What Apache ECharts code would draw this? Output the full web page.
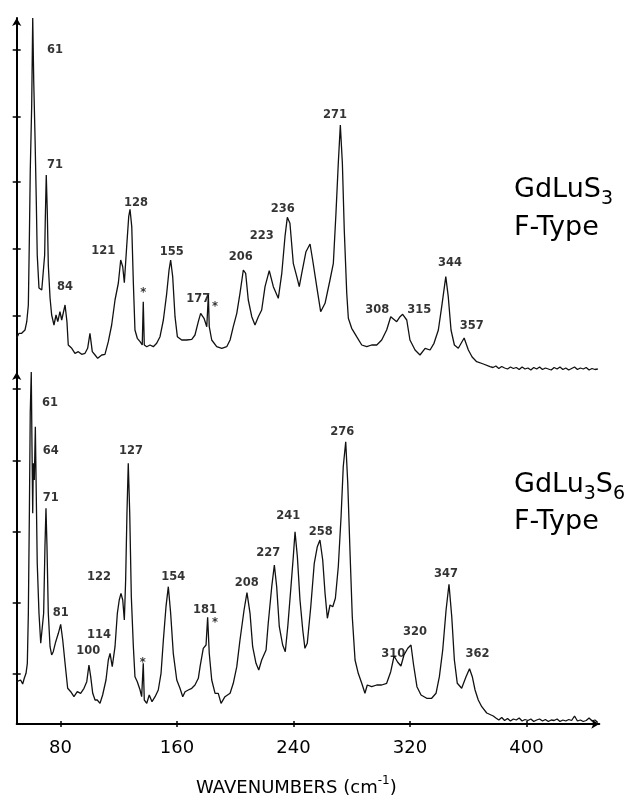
<!DOCTYPE html>
<html>
<head>
<meta charset="utf-8">
<script src="https://cdn.jsdelivr.net/npm/echarts@6/dist/echarts.min.js"></script>
<style>
html,body{margin:0;padding:0;background:#fff;}
#chart{width:629px;height:800px;}
</style>
</head>
<body>
<div id="chart"></div>
<script>
// ---------- DATA ----------
const xMin = 50, xMax = 450;
const xTickValues = [80, 160, 240, 320, 400];
const topYTicks = [56, 123, 190, 255, 322];
const bottomYTicks = [50, 121, 192, 263, 335];

// GdLuS3 F-Type spectrum: [wavenumber, intensity]
const topSpectrum = [
[50.0,34],[51.6,38.7],[53.4,38.7],[55.7,42],[56.9,50.3],[58.0,67],[58.7,134],[59.3,200.3],[60.3,267],[61.0,354],
[61.7,290.3],[62.6,234],[63.5,167],[64.1,117],[65.3,84],[67.2,82],[68.5,80],[69.2,117],[69.6,150.3],[70.3,197],
[71.0,160.3],[71.7,107],[72.9,74],[74.0,57],[75.6,47],[77.0,57],[78.2,50.3],[79.7,60.3],[80.9,52],[83.2,67],
[84.5,50.3],[85.4,27],[87.8,23.7],[90.0,18.7],[92.3,20.3],[94.6,17.7],[96.9,18.7],[98.7,23.7],[100.3,38.7],[101.9,20.3],
[103.8,17],[105.6,13.7],[108.4,17],[110.6,17.7],[112.9,30.3],[115.2,47],[117.5,72],[119.8,89],[121.4,112],[122.8,105.3],
[123.9,89.3],[125.5,125.3],[126.9,155.3],[127.8,162.7],[129.0,145.3],[130.1,88.7],[131.2,42],[132.8,33.7],[134.7,30.3],[136.2,27],
[136.9,70.3],[137.6,27],[139.3,25.3],[141.5,27],[143.8,25.3],[146.1,28.7],[148.4,35.3],[150.7,52],[153.0,78.7],[154.6,102],
[155.7,112],[157.1,95.3],[158.7,55.3],[160.3,35.3],[163.3,32],[166.7,32],[170.2,32.7],[172.4,37],[174.7,50.3],[176.3,58.7],
[178.6,53.7],[180.5,45.3],[181.6,77],[182.2,45.3],[183.9,32],[187.3,25.3],[190.8,23.7],[194.2,25.3],[196.5,32],[198.7,45.3],
[201.1,58.7],[203.3,78.7],[205.6,102],[207.2,98.7],[209.0,72],[211.4,55.3],[213.6,47],[215.9,55.3],[218.2,62],[220.5,85.3],
[223.4,101.3],[226.2,85.3],[229.6,73.7],[232.0,98.7],[234.2,135.3],[235.8,154.7],[237.6,148.7],[239.9,108.7],[242.3,95.3],[244.0,85.3],
[245.7,98.7],[248.6,120.3],[251.4,128],[253.2,112],[256.0,85.3],[258.7,60.3],[261.7,68.7],[265.1,92],[267.4,108.7],[269.2,158.7],
[270.8,208.7],[272.2,247],[273.6,208.7],[274.9,142],[276.6,78.7],[277.7,53.7],[280.0,43.7],[283.4,35.3],[286.9,27],[290.3,25.3],
[293.7,27],[297.2,27],[300.6,32],[304.0,42],[306.8,55.3],[307.9,56],[310.9,50.3],[313.2,55.3],[315.0,57.7],[317.8,52],
[320.0,32],[323.5,22],[326.9,17],[330.4,23.7],[333.8,22],[336.5,28.7],[339.5,42],[341.8,65.3],[344.6,95.3],[346.3,75.3],
[348.2,42],[350.5,27],[353.2,23.7],[357.2,34],[360.1,22],[362.7,15],[365.8,10.3],[370.4,8],[375.0,5.3],[377,4.5],
[379,6],[381,3.5],[383,5.5],[385,4],[387,3],[389,5],[391,3.5],[393,4.5],[395,2.5],[397,5],
[399,3],[401,4],[403,2],[405,4.5],[407,3],[409,5],[411,2.5],[413,4],[415,3],[417,2],
[419,4.5],[421,3],[423,5],[425,2.5],[427,4],[429,2],[431,3.5],[433,5],[435,2.5],[437,4],
[439,3],[441,4.5],[443,2],[445,3.5],[447,2.5],[449,3]
];

// GdLu3S6 F-Type spectrum: [wavenumber, intensity]
const bottomSpectrum = [
[50.0,42.3],[51.1,40.7],[52.7,44],[54.1,40],[55.2,45.7],[56.4,50.7],[57.3,60.7],[58.0,110.7],[58.7,210.7],[59.3,310.7],
[60.0,352],[60.5,277.3],[61.0,210.7],[61.4,260.7],[62.1,244],[62.8,297.3],[63.3,244],[64.1,160.7],[65.3,110.7],[66.5,80.7],
[67.6,79],[68.5,110.7],[69.4,177.3],[70.1,215.7],[70.8,177.3],[71.7,110.7],[72.9,77.3],[74.0,69],[75.1,72.3],[76.8,82.3],
[78.6,90.7],[80.2,99.7],[81.6,84],[83.2,60.7],[85.0,35.7],[87.1,32.3],[89.3,27.3],[91.6,32.3],[93.9,30.7],[96.2,35.7],
[98.1,42.3],[99.6,59],[100.8,47.3],[102.2,30.7],[103.8,24],[105.3,24],[107.2,20.7],[109.0,29],[111.3,44],[112.9,64],
[114.1,70.7],[115.6,57.3],[117.5,77.3],[119.1,110.7],[120.4,124],[121.6,130.7],[122.8,124],[123.9,104],[124.8,144],[125.7,210.7],
[126.6,260.7],[127.6,210.7],[128.7,127.3],[130.1,77.3],[131.2,47.3],[132.8,42.3],[134.7,34],[135.8,27.3],[136.9,60.7],[137.6,24],
[139.3,20.7],[141.0,29],[142.9,22.3],[145.0,27.3],[147.2,34],[149.1,50.7],[150.7,84],[152.5,117.3],[154.1,137.3],[155.7,110.7],
[157.5,70.7],[159.9,44],[162.1,35.7],[164.0,27.3],[165.6,32.3],[167.8,34],[170.2,35.7],[172.4,39],[174.7,45.7],[175.9,57.3],
[178.1,75.7],[180.0,79],[181.1,106.7],[182.2,70.7],[183.9,44],[186.2,30.7],[188.4,30.7],[190.3,20.7],[193.0,27.3],[196.5,30.7],
[198.7,40.7],[201.1,57.3],[203.3,84],[206.1,114],[208.1,131.3],[210.2,110.7],[212.0,77.3],[214.3,60.7],[216.2,54],[218.2,64],
[221.2,74],[222.7,100.7],[225.1,137.3],[226.9,159],[228.5,137.3],[230.3,97.3],[232.6,79],[234.4,72.3],[236.1,97.3],[238.3,137.3],
[239.9,167.3],[241.1,192.3],[242.7,167.3],[244.5,124],[246.4,94],[247.9,75.7],[249.5,80.7],[251.9,117.3],[254.3,160.7],[256.4,177.3],
[258.2,184],[260.1,164],[261.7,130.7],[263.3,105.7],[265.1,119],[267.0,117.3],[268.8,125.7],[270.8,157.3],[272.7,207.3],[274.2,257.3],
[275.9,282.3],[277.3,240.7],[278.8,174],[280.4,107.3],[282.3,64],[284.5,50.7],[286.9,40.7],[289.1,30.7],[290.7,39],[293.7,37.3],
[297.2,39],[300.6,39],[304.0,40.7],[306.8,52.3],[309.1,68],[311.5,62],[313.8,58],[315.9,69],[318.5,75.7],[320.7,79],
[322.5,59],[324.8,37.3],[327.6,29],[331.5,25.7],[334.9,25.7],[337.9,30.7],[340.2,47.3],[342.5,74],[344.8,114],[346.8,139.7],
[348.7,107.3],[350.5,64],[352.5,40.7],[355.5,35.7],[358.5,47.3],[360.9,55.3],[362.8,47.3],[364.7,34],[366.9,24],[369.3,17.3],
[372.7,11],[377.2,8],[379,6],[381,4],[383,6.5],[385,3.5],[387,5.5],[389,3],[391,5],[393,4],
[395,6],[397,3],[399,4.5],[401,3.5],[403,5],[405,2.5],[407,4],[409,5],[411,3],[413,4.5],
[415,2.5],[417,4],[419,3.5],[421,5],[423,2.5],[425,4],[427,3],[429,4.5],[431,3.5],[433,8],
[435,3],[437,4],[439,2.5],[441,3.5],[443,6],[445,3],[447,4],[449,1.5]
];

// peak annotations: text and anchor [wavenumber, intensity]
const topPeakText = ['61','71','84','121','128','*','155','177','*','206','223','236','271','308','315','344','357'];
const topPeakAnchor = [[76.3,322],[76.3,207],[83.2,84.7],[109.5,121.3],[131.9,168.7],[136.9,78.7],[156.4,120.3],[174.7,73],[186.2,65.3],
  [203.8,115.3],[218.2,136.3],[232.6,162.7],[268.5,257],[297.6,62],[326.4,62],[347.5,108.7],[362.4,46]];
const bottomPeakText = ['61','64','71','81','100','114','122','127','*','154','181','*','208','227','241','258','276','310','320','347','362'];
const bottomPeakAnchor = [[72.9,321.3],[73.3,273.3],[73.3,225.7],[80.2,110.7],[99.2,73.3],[106.5,89],[106.5,146.7],[128.5,273.3],[136.5,60.7],
  [157.5,146.7],[179.3,114],[186.2,101.3],[207.9,140.7],[222.7,171.3],[236.5,208],[258.7,192.3],[273.6,292.3],[308.6,70],[323.5,91.7],[344.8,150],[366.3,70]];

// ---------- CHART ----------
const FONT = "'DejaVu Sans', Verdana, sans-serif";
const chart = echarts.init(document.getElementById('chart'), null, {renderer: 'canvas'});

const tickStyle = {color: '#000', width: 1.5};

function yPair(grid, max, ticks) {
  return [
    {type: 'value', gridIndex: grid, position: 'left', min: 0, max: max,
     axisLine: {show: true, lineStyle: {color: '#000', width: 2}, symbol: ['none', 'arrow'], symbolSize: [7, 8]},
     axisTick: {show: true, inside: false, length: 4, customValues: ticks, lineStyle: tickStyle},
     axisLabel: {show: false}, splitLine: {show: false}},
    {type: 'value', gridIndex: grid, position: 'left', min: 0, max: max,
     axisLine: {show: false},
     axisTick: {show: true, inside: true, length: 4, customValues: ticks, lineStyle: tickStyle},
     axisLabel: {show: false}, splitLine: {show: false}}
  ];
}

function labelData(texts, anchors) {
  return texts.map((t, i) => ({name: t, value: anchors[i]}));
}

const peakLabel = {
  show: true, position: 'inside', formatter: p => p.name,
  color: '#000', fontFamily: FONT, fontWeight: 'bold', fontSize: 11.5
};

const option = {
  backgroundColor: '#fff',
  animation: false,
  grid: [
    {left: 16.7, right: 29.7, top: 18, height: 354, containLabel: false},
    {left: 16.7, right: 29.7, top: 372, height: 352, containLabel: false}
  ],
  xAxis: [
    {type: 'value', gridIndex: 0, min: xMin, max: xMax, show: false, splitLine: {show: false}},
    {type: 'value', gridIndex: 1, position: 'bottom', min: xMin, max: xMax,
     axisLine: {show: true, lineStyle: {color: '#000', width: 2}, symbol: ['none', 'arrow'], symbolSize: [7, 8]},
     axisTick: {show: true, inside: false, length: 3, customValues: xTickValues, lineStyle: tickStyle},
     axisLabel: {show: true, customValues: xTickValues, margin: 15, color: '#000', fontSize: 18, fontFamily: FONT},
     splitLine: {show: false}},
    {type: 'value', gridIndex: 1, position: 'bottom', min: xMin, max: xMax,
     axisLine: {show: false},
     axisTick: {show: true, inside: true, length: 3, customValues: xTickValues, lineStyle: tickStyle},
     axisLabel: {show: false}, splitLine: {show: false}}
  ],
  yAxis: [].concat(yPair(0, 354, topYTicks), yPair(1, 352, bottomYTicks)),
  series: [
    {type: 'line', name: 'GdLuS3', xAxisIndex: 0, yAxisIndex: 0, data: topSpectrum,
     showSymbol: false, symbol: 'none', lineStyle: {color: '#111', width: 1.3}, clip: true},
    {type: 'line', name: 'GdLu3S6', xAxisIndex: 1, yAxisIndex: 2, data: bottomSpectrum,
     showSymbol: false, symbol: 'none', lineStyle: {color: '#111', width: 1.3}, clip: true},
    {type: 'scatter', xAxisIndex: 0, yAxisIndex: 0, symbolSize: 0, data: labelData(topPeakText, topPeakAnchor),
     label: peakLabel, silent: true, z: 5},
    {type: 'scatter', xAxisIndex: 1, yAxisIndex: 2, symbolSize: 0, data: labelData(bottomPeakText, bottomPeakAnchor),
     label: peakLabel, silent: true, z: 5}
  ],
  graphic: [
    {type: 'text', left: 514, top: 176, style: {
      text: '{a|GdLuS}{s|3}', fill: '#000',
      rich: {a: {fontSize: 27, fontFamily: FONT, lineHeight: 30, verticalAlign: 'bottom'},
             s: {fontSize: 19, fontFamily: FONT, lineHeight: 19, verticalAlign: 'bottom', padding: [0, 0, -6, 0]}}}},
    {type: 'text', left: 514, top: 214, style: {text: 'F-Type', fill: '#000', fontSize: 27, fontFamily: FONT}},
    {type: 'text', left: 514, top: 471, style: {
      text: '{a|GdLu}{s|3}{a|S}{s|6}', fill: '#000',
      rich: {a: {fontSize: 27, fontFamily: FONT, lineHeight: 30, verticalAlign: 'bottom'},
             s: {fontSize: 19, fontFamily: FONT, lineHeight: 19, verticalAlign: 'bottom', padding: [0, 0, -6, 0]}}}},
    {type: 'text', left: 514, top: 508, style: {text: 'F-Type', fill: '#000', fontSize: 27, fontFamily: FONT}},
    {type: 'text', left: 196, top: 775, style: {
      text: '{n|WAVENUMBERS (cm}{s|-1}{n|)}', fill: '#000',
      rich: {n: {fontSize: 18, fontFamily: FONT, lineHeight: 22, verticalAlign: 'bottom'},
             s: {fontSize: 12, fontFamily: FONT, lineHeight: 12, verticalAlign: 'top'}}}}
  ]
};
chart.setOption(option);
</script>
</body>
</html>
